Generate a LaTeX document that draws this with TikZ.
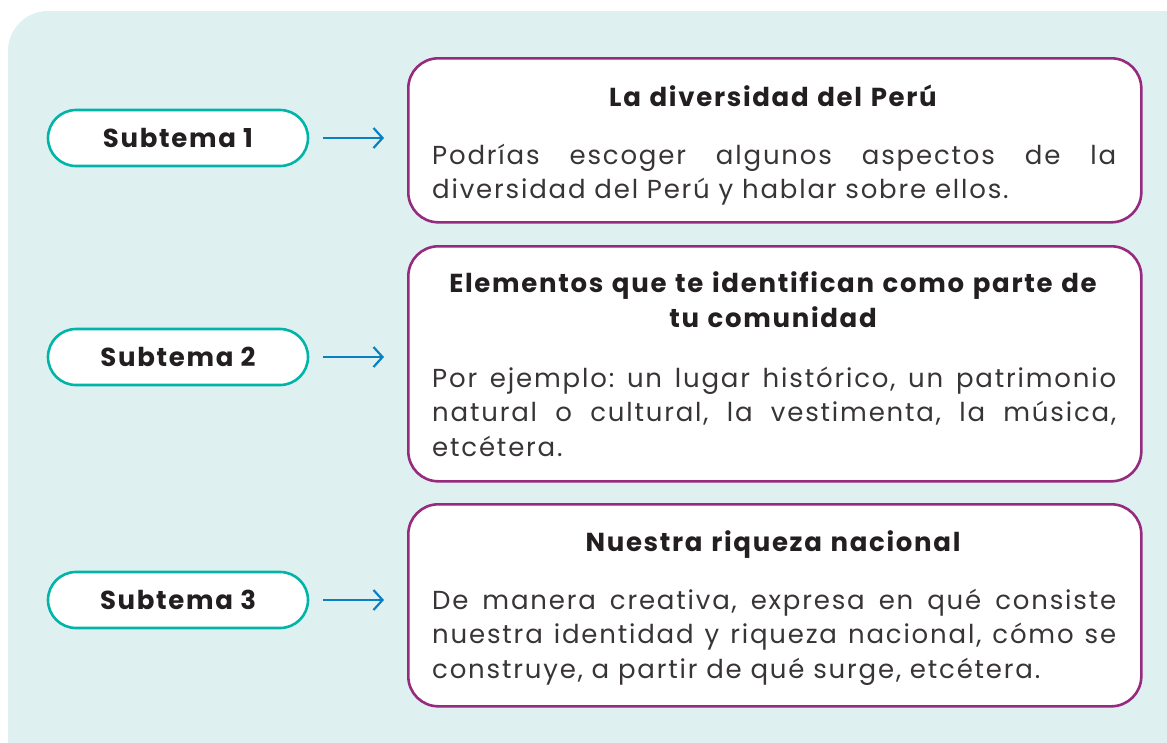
\documentclass[tikz,border=0pt]{standalone}
\usepackage{fontspec}
\setmainfont{Poppins}
\newfontfamily\bodyfont[LetterSpace=7]{Poppins}
\newfontfamily\headfont[LetterSpace=6.5]{Poppins}
\usetikzlibrary{arrows.meta}
\definecolor{panel}{HTML}{DFF0F0}
\definecolor{teal}{HTML}{00B5A8}
\definecolor{plum}{HTML}{962A7F}
\definecolor{arrowblue}{HTML}{0A7FC4}
\definecolor{ink}{HTML}{231F20}
\frenchspacing
\begin{document}
\begin{tikzpicture}[x=1pt,y=-1pt,
  pill/.style={draw=teal, line width=2.6pt, fill=white, rounded corners=28pt,
    minimum width=260pt, minimum height=56pt, inner sep=0pt,
    font=\headfont\fontsize{26}{28}\selectfont\bfseries, text=ink},
  topicbox/.style={draw=plum, line width=2.6pt, fill=white, rounded corners=30pt,
    minimum width=733pt, inner sep=0pt, anchor=north west},
  title/.style={font=\headfont\fontsize{26}{35}\selectfont\bfseries, text=ink, align=center,
    text width=700pt, inner sep=0pt, anchor=base},
  body/.style={font=\bodyfont\fontsize{26}{34.5}\selectfont\frenchspacing, text=ink!90, align=justify,
    text width=684pt, inner sep=0pt, anchor=base west},
  link/.style={draw=arrowblue, line width=2.2pt, -{Straight Barb[length=9pt,width=20pt]},
    shorten <=14pt, shorten >=23pt}]
\useasboundingbox (0,0) rectangle (1167,742);
\fill[panel, rounded corners=40pt] (8,11) rectangle (1220,790);

\node[pill] (s1) at (178,138) {Subtema 1};
\node[pill] (s2) at (178,357) {Subtema 2};
\node[pill] (s3) at (178,600) {Subtema 3};

\node[topicbox, minimum height=164pt] (b1) at (407,57) {};
\node[topicbox, minimum height=235pt] (b2) at (407,245) {};
\node[topicbox, minimum height=202pt] (b3) at (407,503) {};

\node[title] (t1) at (773,106) {La diversidad del Perú};
\node[body] (p1) at (432,164) {Podrías escoger algunos aspectos de la\linebreak diversidad del Perú y hablar sobre ellos.};

\node[title] (t2) at (773,292) {Elementos que te identifican como parte de\\tu comunidad};
\node[body] (p2) at (432,387) {Por ejemplo: un lugar histórico, un patrimonio\linebreak natural o cultural, la vestimenta, la música,\linebreak etcétera.};

\node[title] (t3) at (773,551) {Nuestra riqueza nacional};
\node[body] (p3) at (432,609) {De manera creativa, expresa en qué consiste\linebreak nuestra identidad y riqueza nacional, cómo se\linebreak construye, a partir de qué surge, etcétera.};

\draw[link] (s1.east) -- (s1.east -| b1.west);
\draw[link] (s2.east) -- (s2.east -| b2.west);
\draw[link] (s3.east) -- (s3.east -| b3.west);
\end{tikzpicture}
\end{document}
